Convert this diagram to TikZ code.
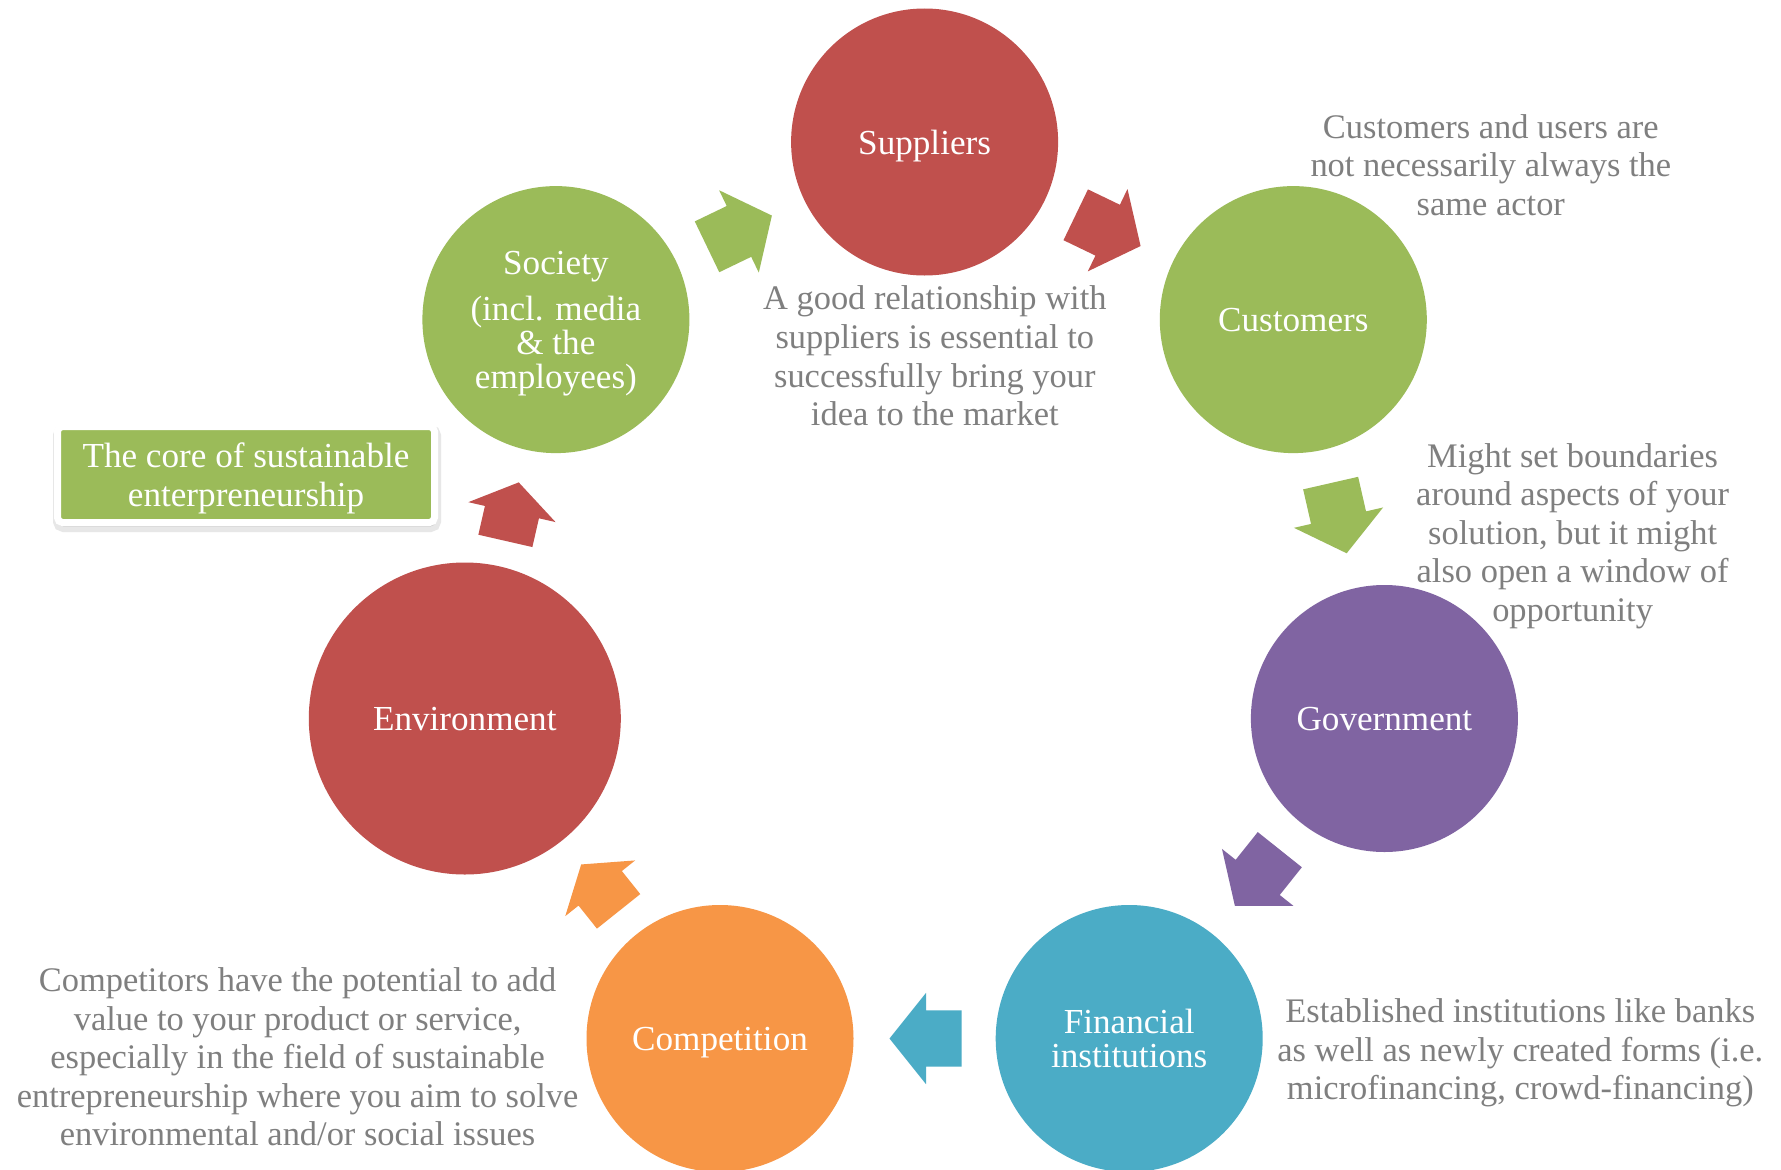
\documentclass[tikz,border=0pt]{standalone}
\usepackage{fontspec}
\setmainfont{Liberation Serif}
\usepackage{tikz}
\usetikzlibrary{shapes.arrows,shadows,calc}

\definecolor{actred}{HTML}{C0504D}
\definecolor{actgreen}{HTML}{9BBB59}
\definecolor{actpurple}{HTML}{8064A2}
\definecolor{actblue}{HTML}{4BACC6}
\definecolor{actorange}{HTML}{F79646}
\definecolor{notegray}{HTML}{7F7F7F}

\tikzset{
  actor/.style={circle, minimum size=2.67cm, inner sep=0pt, text=white, align=center,
    text depth=0pt, font=\fontsize{10}{9.6}\selectfont},
  note/.style={text=notegray, align=center, font=\fontsize{9.8}{10.98}\selectfont},
  flowarrow/.style={single arrow, draw=none, sloped, allow upside down, anchor=tip,
    inner xsep=0pt, inner ysep=0.275cm, single arrow head extend=0.175cm,
    single arrow tip angle=102.7, minimum height=0.72cm},
  shortarrow/.style={flowarrow, inner ysep=0.27cm, single arrow head extend=0.17cm,
    single arrow tip angle=111.4, minimum height=0.60cm}
}

\begin{document}
\begin{tikzpicture}
  \path [use as bounding box, fill=white] (0,0) rectangle (17.81,-11.69);

  % the seven actors round the circle
  \node (suppliers) [actor, fill=actred] at (9.246,-1.420) {Suppliers};
  \node (customers) [actor, fill=actgreen] at (12.933,-3.196) {Customers};
  \node (government) [actor, fill=actpurple] at (13.844,-7.185) {Government};
  \node (financial) [actor, fill=actblue] at (11.292,-10.385) {Financial\\ institutions};
  \node (competition) [actor, fill=actorange] at (7.200,-10.385) {Competition};
  \node (environment) [actor, fill=actred, minimum size=3.12cm] at (4.648,-7.185) {Environment};
  \node (society) [actor, fill=actgreen] at (5.559,-3.196) {Society\\[0.13cm] (incl. media\\ \& the\\ employees)};

  % block arrows between them
  \path (society.center) -- node (socArrow) [flowarrow, fill=actgreen, pos=0.588] {} (suppliers.center);
  \path (suppliers.center) -- node (supArrow) [flowarrow, fill=actred, pos=0.588] {} (customers.center);
  \path (customers.center) -- node (cusArrow) [flowarrow, fill=actgreen, pos=0.588] {} (government.center);
  \path (government.center) -- node (govArrow) [flowarrow, fill=actpurple, pos=0.588] {} (financial.center);
  \path (financial.center) -- node (finArrow) [flowarrow, fill=actblue, pos=0.588] {} (competition.center);
  \path (competition.center) -- node (comArrow) [shortarrow, fill=actorange, pos=0.546] {} (environment.center);
  \path (environment.center) -- node (envArrow) [shortarrow, fill=actred, pos=0.594] {} (society.center);

  % notes
  \node (core) [fill=actgreen, draw=white, line width=0.07cm, rounded corners=0.05cm,
    minimum width=3.77cm, minimum height=0.96cm, text=white, align=center, text depth=0pt,
    font=\fontsize{10}{10.98}\selectfont,
    drop shadow={shadow xshift=0.01cm, shadow yshift=-0.04cm, opacity=0.3,
      fill=black!50, draw=black!30, line width=0.11cm}]
    at (2.46,-4.745) {The core of sustainable\\ enterpreneurship};
  \node (supNote) [note] at (9.348,-3.56) {A good relationship with\\ suppliers is essential to\\ successfully bring your\\ idea to the market};
  \node (cusNote) [note] at (14.908,-1.65) {Customers and users are\\ not necessarily always the\\ same actor};
  \node (govNote) [note] at (15.726,-5.36) {Might set boundaries\\ around aspects of your\\ solution, but it might\\ also open a window of\\ opportunity};
  \node (finNote) [note] at (15.203,-10.53) {Established institutions like banks\\ as well as newly created forms (i.e.\\ microfinancing, crowd-financing)};
  \node (comNote) [note] at (2.976,-10.57) {Competitors have the potential to add\\ value to your product or service,\\ especially in the field of sustainable\\ entrepreneurship where you aim to solve\\ environmental and/or social issues};
\end{tikzpicture}
\end{document}
